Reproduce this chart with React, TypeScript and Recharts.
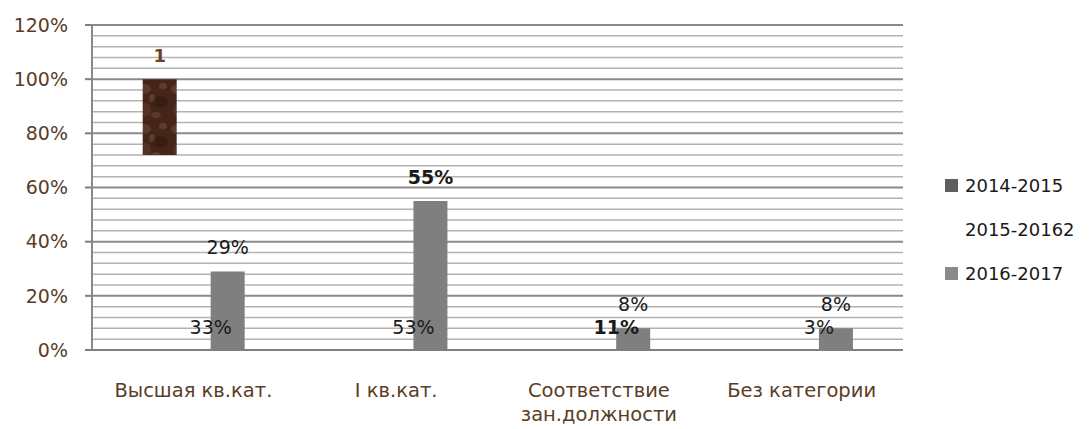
import { BarChart, Bar, XAxis, YAxis, CartesianGrid, Legend, LabelList } from "recharts";

const categories = ["Высшая кв.кат.", "I кв.кат.", "Соответствие\nзан.должности", "Без категории"];
const series2014Low = [0.72, null, null, null];
const series2014 = [1, null, null, null];
const series2015 = [0.33, 0.53, 0.11, 0.03];
const series2016 = [0.29, 0.55, 0.08, 0.08];
const seriesNames = ["2014-2015", "2015-20162", "2016-2017"];
const yTicks = [0, 0.2, 0.4, 0.6, 0.8, 1, 1.2];
const minorTicks = [
  0.04, 0.08, 0.12, 0.16, 0.24, 0.28, 0.32, 0.36, 0.44, 0.48, 0.52, 0.56, 0.64, 0.68, 0.72, 0.76,
  0.84, 0.88, 0.92, 0.96, 1.04, 1.08, 1.12, 1.16,
];

const data = categories.map((name, i) => ({
  name,
  lo14: series2014Low[i],
  hi14: series2014[i],
  s15: series2015[i],
  s16: series2016[i],
}));

const FONT = "'DejaVu Sans', sans-serif";
const BROWN_TEXT = "#5a3d26";
const legendColors = ["#5f5f5f", null, "#8a8a8a"];
const boldIdx15 = [2];
const boldIdx16 = [1];

const pct = (v: number) => `${Math.round(v * 100)}%`;

function CategoryTick(props: any) {
  const { x, y, payload } = props;
  const lines = String(payload.value).split("\n");
  return (
    <text x={x} y={y + 32} textAnchor="middle" fill={BROWN_TEXT} fontSize={19.5} fontFamily={FONT}>
      {lines.map((l, i) => (
        <tspan key={i} x={x} dy={i === 0 ? "0.35em" : 24}>
          {l}
        </tspan>
      ))}
    </text>
  );
}

function LegendBox() {
  return (
    <div style={{ fontFamily: FONT, fontSize: 18, color: "#1a1a1a" }}>
      {seriesNames.map((n, i) => (
        <div key={n} style={{ display: "flex", alignItems: "center", height: 44, paddingLeft: 42 }}>
          <span
            style={{
              display: "inline-block",
              width: 13,
              height: 13,
              marginRight: 7,
              background: legendColors[i] ?? "transparent",
            }}
          />
          <span>{n}</span>
        </div>
      ))}
    </div>
  );
}

export default function App() {
  return (
    <div style={{ position: "absolute", left: 0, top: 0 }}>
      <BarChart
        width={1092}
        height={429}
        data={data}
        margin={{ top: 25, right: 0, left: 0, bottom: 0 }}
        barCategoryGap="25%"
        barGap={0}
      >
        <defs>
          <pattern id="brownTex" width="34" height="40" patternUnits="userSpaceOnUse">
            <rect width="34" height="40" fill="#45251a" />
            <ellipse cx="8" cy="9" rx="7" ry="5" fill="#6e4a38" opacity="0.55" />
            <ellipse cx="24" cy="22" rx="8" ry="6" fill="#2f170e" opacity="0.6" />
            <ellipse cx="27" cy="6" rx="4" ry="3" fill="#7d5a46" opacity="0.45" />
            <ellipse cx="9" cy="30" rx="6" ry="7" fill="#5e3826" opacity="0.6" />
            <ellipse cx="20" cy="35" rx="5" ry="3" fill="#7a5441" opacity="0.4" />
            <ellipse cx="16" cy="18" rx="3" ry="4" fill="#8a6550" opacity="0.35" />
          </pattern>
        </defs>
        <CartesianGrid
          vertical={false}
          horizontalValues={minorTicks}
          stroke="#b2b2b2"
          strokeWidth={1.5}
        />
        <CartesianGrid vertical={false} horizontalValues={yTicks} stroke="#8a8a8a" strokeWidth={2} />
        <XAxis
          dataKey="name"
          height={79}
          tickLine={false}
          axisLine={{ stroke: "#7f7f7f", strokeWidth: 2 }}
          tick={<CategoryTick />}
          interval={0}
        />
        <YAxis
          width={92}
          domain={[0, 1.2]}
          ticks={yTicks}
          tickFormatter={pct}
          tickSize={7}
          tickMargin={17}
          tickLine={{ stroke: "#7f7f7f", strokeWidth: 2 }}
          axisLine={{ stroke: "#8a8a8a", strokeWidth: 2 }}
          tick={{ fill: BROWN_TEXT, fontSize: 19, fontFamily: FONT }}
          interval={0}
        />
        <Legend
          layout="vertical"
          align="right"
          verticalAlign="middle"
          content={<LegendBox />}
          wrapperStyle={{ width: 189, left: 903, top: 163 }}
        />
        <Bar
          name={seriesNames[0]}
          dataKey={(d: any) => (d.hi14 == null ? null : [d.lo14, d.hi14])}
          fill="url(#brownTex)"
          isAnimationActive={false}
        >
          <LabelList
            content={(p: any) =>
              p.value == null || p.height == null ? null : (
                <text
                  x={p.x + p.width / 2}
                  y={p.y - 24}
                  textAnchor="middle"
                  dominantBaseline="central"
                  fill="#6b4423"
                  fontWeight="bold"
                  fontSize={18}
                  fontFamily={FONT}
                >
                  {series2014[p.index]}
                </text>
              )
            }
          />
        </Bar>
        <Bar name={seriesNames[1]} dataKey="s15" fill="transparent" isAnimationActive={false}>
          <LabelList
            dataKey="s15"
            content={(p: any) => (
              <text
                x={p.x + p.width}
                y={p.y + p.height - 23}
                textAnchor="middle"
                dominantBaseline="central"
                fill="#1a1a1a"
                fontWeight={boldIdx15.includes(p.index) ? "bold" : "normal"}
                fontSize={19}
                fontFamily={FONT}
              >
                {pct(Number(p.value))}
              </text>
            )}
          />
        </Bar>
        <Bar name={seriesNames[2]} dataKey="s16" fill="#7f7f7f" isAnimationActive={false}>
          <LabelList
            dataKey="s16"
            content={(p: any) => (
              <text
                x={p.x + p.width / 2}
                y={p.y - 24}
                textAnchor="middle"
                dominantBaseline="central"
                fill="#1a1a1a"
                fontWeight={boldIdx16.includes(p.index) ? "bold" : "normal"}
                fontSize={19}
                fontFamily={FONT}
              >
                {pct(Number(p.value))}
              </text>
            )}
          />
        </Bar>
      </BarChart>
    </div>
  );
}
